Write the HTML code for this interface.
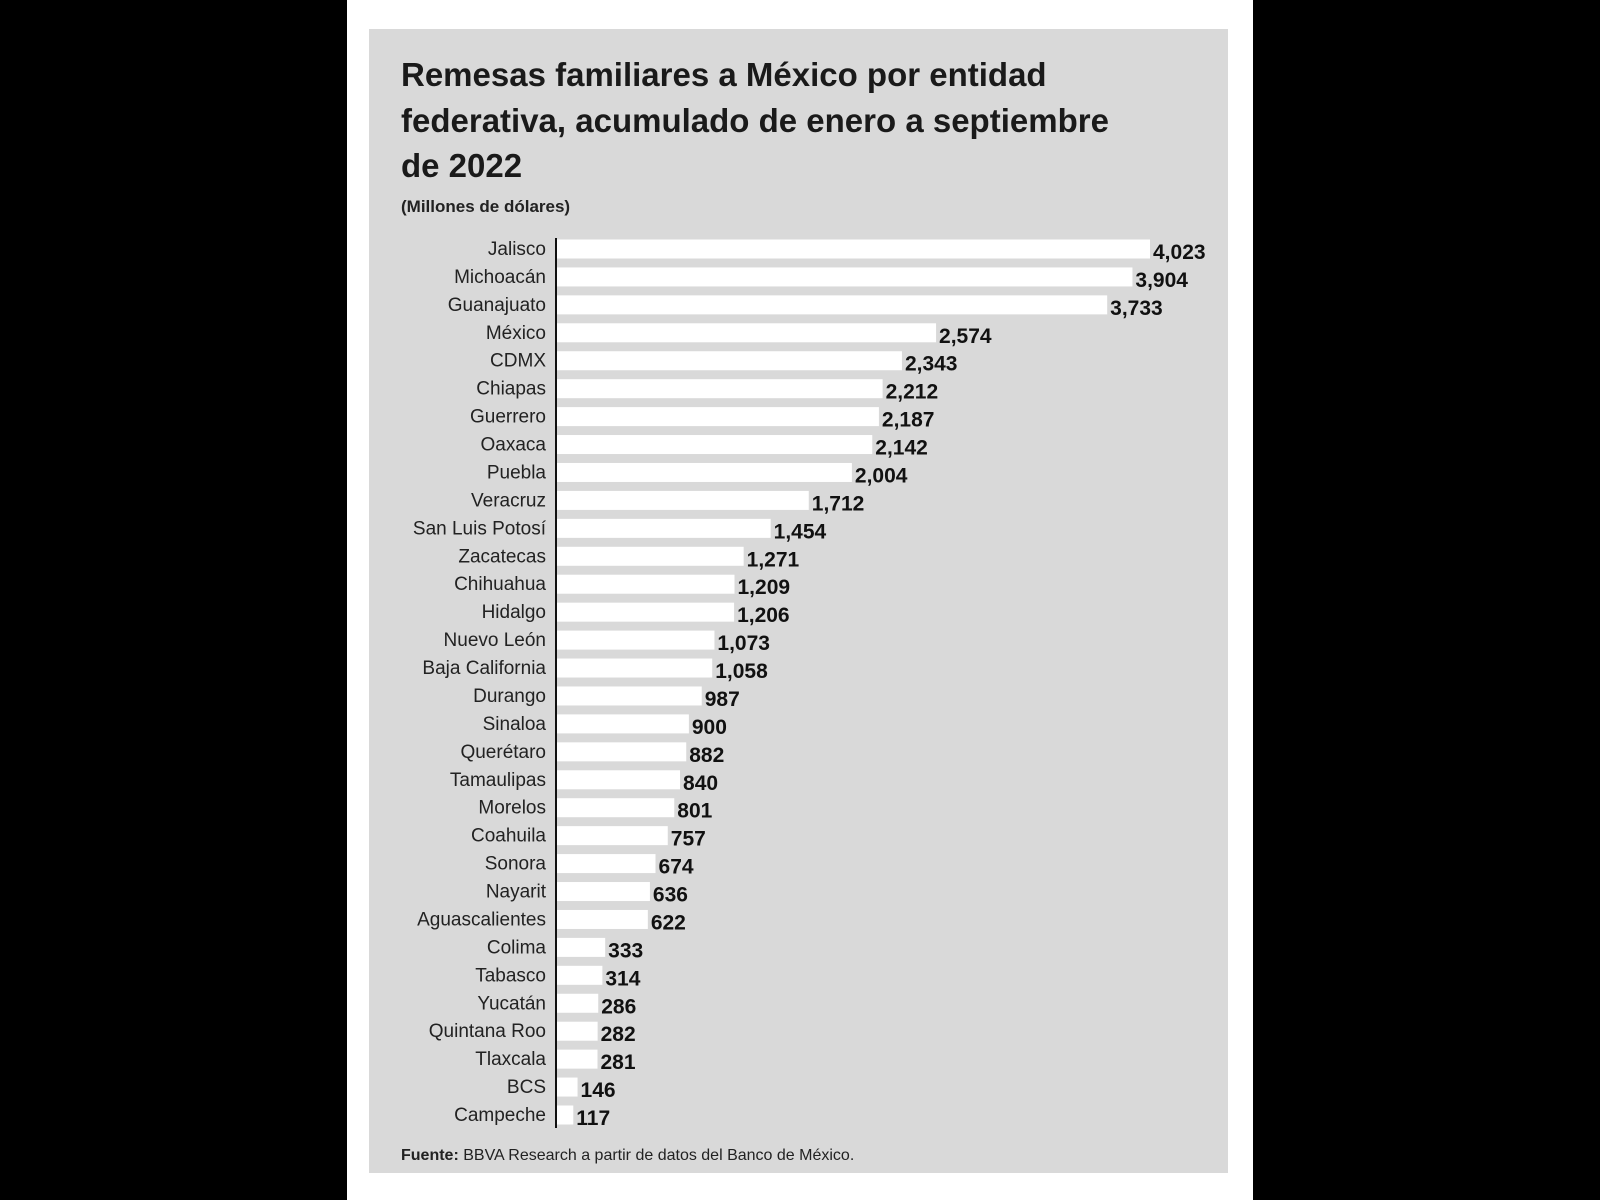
<!DOCTYPE html>
<html><head><meta charset="utf-8"><style>
html,body{margin:0;padding:0;background:#000;width:1600px;height:1200px;overflow:hidden}
svg{display:block}
text{font-family:"Liberation Sans",sans-serif}
</style></head><body>
<svg id="chart" width="1600" height="1200">
<rect x="0" y="0" width="1600" height="1200" fill="#000"/>
<rect x="347" y="0" width="906" height="1200" fill="#fff"/>
<rect x="369" y="29" width="859" height="1144" fill="#d9d9d9"/>
<g font-weight="bold" font-size="33" fill="#1a1a1a">
<text x="401" y="86">Remesas familiares a México por entidad</text>
<text x="401" y="132">federativa, acumulado de enero a septiembre</text>
<text x="401" y="177">de 2022</text>
</g>
<text x="401" y="212" font-size="17" font-weight="bold" fill="#222">(Millones de dólares)</text>
<g id="bars"></g>
<line x1="556" y1="238" x2="556" y2="1128" stroke="#111" stroke-width="2"/>
<text x="401" y="1160" font-size="16" fill="#222"><tspan font-weight="bold">Fuente:</tspan> BBVA Research a partir de datos del Banco de México.</text>
</svg>
<script>
const categories = ["Jalisco","Michoacán","Guanajuato","México","CDMX","Chiapas","Guerrero","Oaxaca","Puebla","Veracruz","San Luis Potosí","Zacatecas","Chihuahua","Hidalgo","Nuevo León","Baja California","Durango","Sinaloa","Querétaro","Tamaulipas","Morelos","Coahuila","Sonora","Nayarit","Aguascalientes","Colima","Tabasco","Yucatán","Quintana Roo","Tlaxcala","BCS","Campeche"];
const values = [4023,3904,3733,2574,2343,2212,2187,2142,2004,1712,1454,1271,1209,1206,1073,1058,987,900,882,840,801,757,674,636,622,333,314,286,282,281,146,117];
const valueLabels = ["4,023","3,904","3,733","2,574","2,343","2,212","2,187","2,142","2,004","1,712","1,454","1,271","1,209","1,206","1,073","1,058","987","900","882","840","801","757","674","636","622","333","314","286","282","281","146","117"];
const NS="http://www.w3.org/2000/svg";
const x0=556, xScale=v=>x0+v*(1150-556)/4023;
const yTop=249, yStep=(1115-249)/31;
const yPos=i=>yTop+i*yStep;
const g=document.getElementById('bars');
categories.forEach((c,i)=>{
  const y=yPos(i);
  const r=document.createElementNS(NS,'rect');
  r.setAttribute('x',x0);r.setAttribute('y',y-9.5);
  r.setAttribute('width',xScale(values[i])-x0);r.setAttribute('height',19);
  r.setAttribute('fill','#fff');
  
  
  g.appendChild(r);
  const t=document.createElementNS(NS,'text');
  t.setAttribute('x',546);t.setAttribute('y',y+6);
  t.setAttribute('text-anchor','end');t.setAttribute('font-size','19');t.setAttribute('fill','#222');
  t.textContent=c;
  
  
  g.appendChild(t);
  const v=document.createElementNS(NS,'text');
  v.setAttribute('x',xScale(values[i])+3);v.setAttribute('y',y+10);
  v.setAttribute('font-size','21');v.setAttribute('font-weight','bold');v.setAttribute('fill','#111');
  v.textContent=valueLabels[i];
  
  
  g.appendChild(v);
});
</script>
</body></html>
